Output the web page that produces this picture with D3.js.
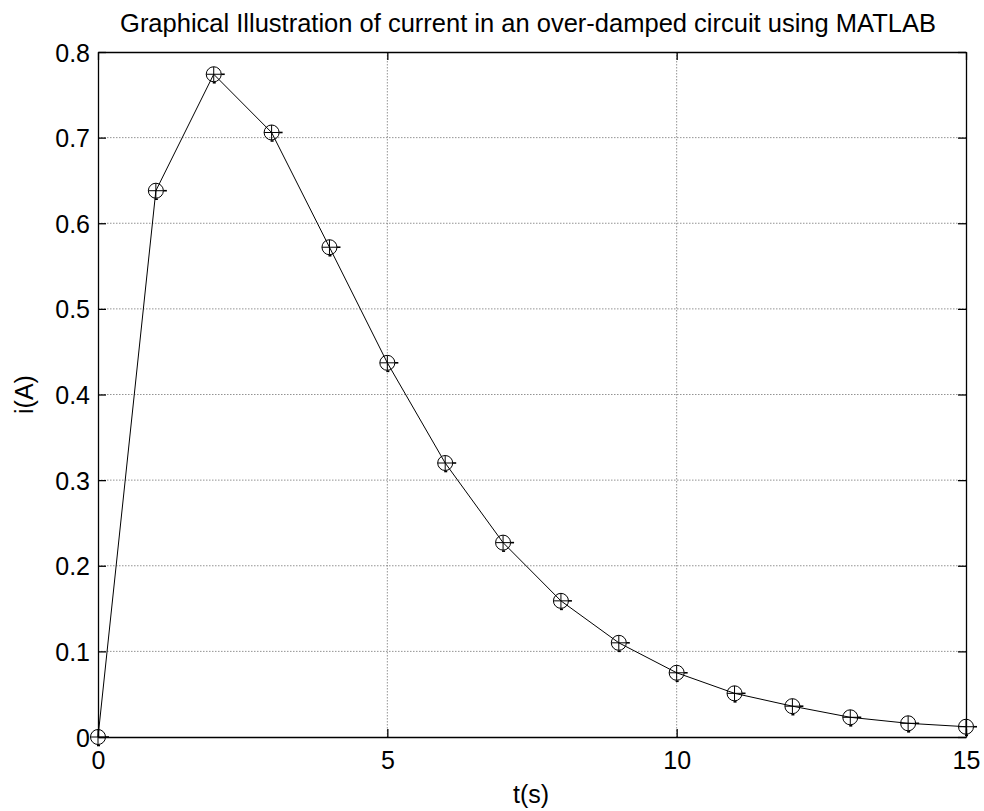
<!DOCTYPE html>
<html><head><meta charset="utf-8">
<script src="https://cdn.jsdelivr.net/npm/d3@7"></script>
<style>body{margin:0;background:#fff}svg{display:block}text{font-family:"Liberation Sans",Arial,sans-serif;fill:#000}</style>
</head><body><svg id="c" width="984" height="811"></svg>
<script>
const tValues = [0,1,2,3,4,5,6,7,8,9,10,11,12,13,14,15];
const iValues = [0,0.638,0.774,0.706,0.572,0.437,0.320,0.227,0.159,0.110,0.075,0.051,0.036,0.023,0.016,0.012];
const xTicks = [0,5,10,15];
const yTicks = [0,0.1,0.2,0.3,0.4,0.5,0.6,0.7,0.8];
const titleText = "Graphical Illustration of current in an over-damped circuit using MATLAB";
const xLabel = "t(s)", yLabel = "i(A)";

const svg = d3.select("#c");
const L=98,R=966,T=52,B=737;
const x = d3.scaleLinear().domain([0,15]).range([L,R]);
const y = d3.scaleLinear().domain([0,0.8]).range([B,T]);

// grid
const g = svg.append("g");
g.selectAll(".gx").data(xTicks.slice(1,-1)).join("line")
 .attr("x1",d=>x(d)).attr("x2",d=>x(d)).attr("y1",T).attr("y2",B)
 .attr("stroke","#777").attr("stroke-width",0.8).attr("stroke-dasharray","1.5,1.5");
g.selectAll(".gy").data(yTicks.slice(1,-1)).join("line")
 .attr("y1",d=>y(d)).attr("y2",d=>y(d)).attr("x1",L).attr("x2",R)
 .attr("stroke","#777").attr("stroke-width",0.8).attr("stroke-dasharray","1.5,1.5");

// axes
const fmtY = d=> d===0?"0":d3.format(".1f")(d);
const axB = svg.append("g").attr("transform",`translate(0,${B})`).call(d3.axisBottom(x).tickValues(xTicks).tickSizeInner(-8).tickSizeOuter(0).tickPadding(14).tickFormat(d3.format("d")));
const axT = svg.append("g").attr("transform",`translate(0,${T})`).call(d3.axisTop(x).tickValues(xTicks).tickSizeInner(-8).tickSizeOuter(0).tickFormat(""));
const axL = svg.append("g").attr("transform",`translate(${L},0)`).call(d3.axisLeft(y).tickValues(yTicks).tickSizeInner(-8).tickSizeOuter(0).tickPadding(16).tickFormat(fmtY));
const axR = svg.append("g").attr("transform",`translate(${R},0)`).call(d3.axisRight(y).tickValues(yTicks).tickSizeInner(-8).tickSizeOuter(0).tickFormat(""));
[axB,axT,axL,axR].forEach(a=>{
  a.attr("font-size",null).attr("font-family",null);
  a.select(".domain").attr("stroke","#000").attr("stroke-width",1.3);
  a.selectAll(".tick line").attr("stroke","#000").attr("stroke-width",1.3);
  a.selectAll("text").style("font-family","'Liberation Sans', Arial, sans-serif").style("font-size","25px").attr("fill","#000");
});
axB.selectAll("text").attr("y",32).attr("dy",null);
axL.selectAll("text").attr("x",-8).attr("dy","0.36em");

// line
svg.append("path").datum(tValues.map((t,i)=>[t,iValues[i]]))
 .attr("fill","none").attr("stroke","#000").attr("stroke-width",1)
 .attr("d",d3.line().x(d=>x(d[0])).y(d=>y(d[1])));

// markers
const m = svg.selectAll(".m").data(tValues.map((t,i)=>[t,iValues[i]])).join("g")
 .attr("transform",d=>`translate(${x(d[0])},${y(d[1])})`);
m.append("circle").attr("r",7.5).attr("fill","none").attr("stroke","#000").attr("stroke-width",1);
m.append("path").attr("d","M-7.5,0H7.5M0,-7.5V7.5").attr("stroke","#000").attr("stroke-width",1);
m.append("path").attr("d","M7.5,0H11").attr("stroke","#000").attr("stroke-width",1.6);
m.append("path").attr("d","M-1,8.5H2").attr("stroke","#000").attr("stroke-width",1.6);

// labels
svg.append("text").attr("x",528).attr("y",32).attr("text-anchor","middle").style("font-size","25.5px").text(titleText);
svg.append("text").attr("x",531).attr("y",803).attr("text-anchor","middle").style("font-size","25px").text(xLabel);
svg.append("text").attr("transform",`translate(33,${(T+B)/2}) rotate(-90)`).attr("text-anchor","middle").style("font-size","25px").text(yLabel);
</script></body></html>
